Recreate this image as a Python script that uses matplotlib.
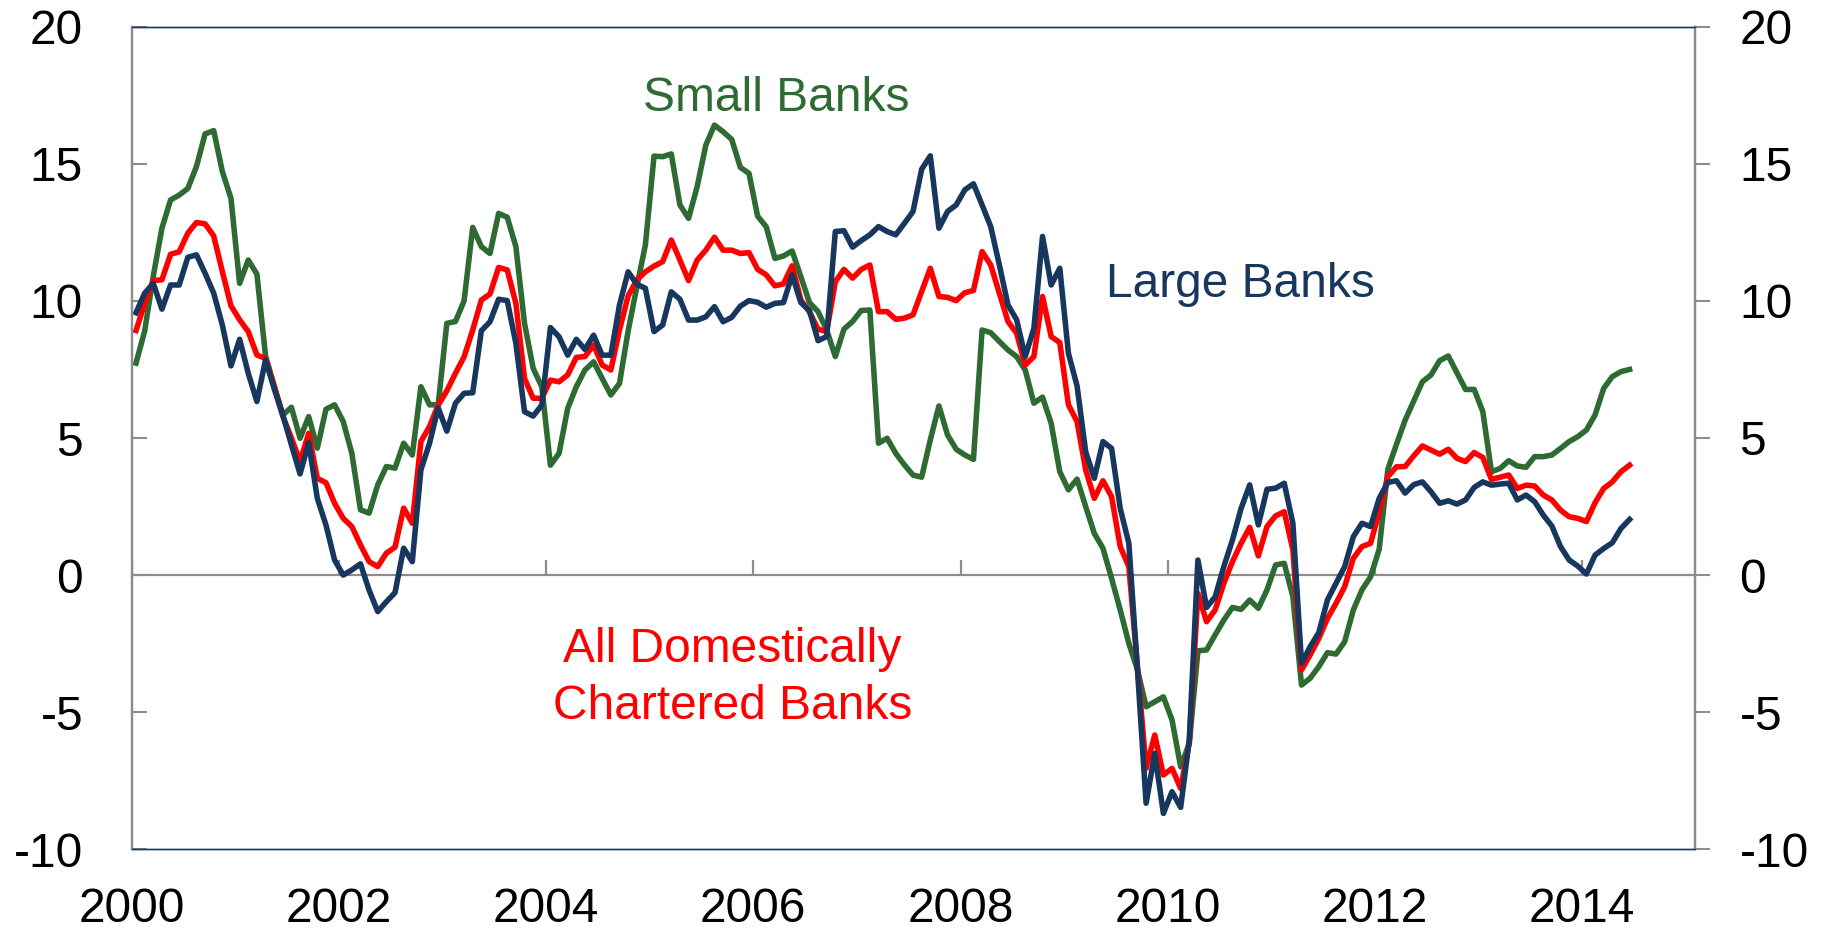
import numpy as np
import pandas as pd
import matplotlib
matplotlib.use("Agg")
import matplotlib.pyplot as plt

plt.rcParams['font.family'] = ['Liberation Sans', 'DejaVu Sans']

# Monthly data, Jan 2000 - Jun 2014 (percent, annual rate)
months = pd.date_range("2000-01-01", periods=174, freq="MS")

small_banks = [
    7.73, 8.9, 10.9, 12.65, 13.68, 13.86, 14.1, 14.9, 16.09, 16.21, 14.72, 13.74,
    10.64, 11.49, 10.98, 8.0, 6.9, 5.84, 6.12, 4.99, 5.78, 4.63, 6.05, 6.21,
    5.6, 4.44, 2.38, 2.26, 3.29, 3.96, 3.9, 4.81, 4.38, 6.87, 6.21, 6.21,
    9.18, 9.25, 10.0, 12.68, 11.98, 11.73, 13.19, 13.05, 11.98, 9.18, 7.54, 6.87,
    4.01, 4.44, 6.08, 6.87, 7.48, 7.78, 7.17, 6.57, 6.99, 8.9, 10.5, 12.04,
    15.28, 15.26, 15.36, 13.5, 13.01, 14.17, 15.68, 16.41, 16.17, 15.89, 14.87, 14.65,
    13.09, 12.7, 11.55, 11.64, 11.82, 10.89, 9.94, 9.61, 8.94, 7.97, 8.97, 9.25,
    9.65, 9.67, 4.81, 4.99, 4.44, 4.02, 3.65, 3.57, 4.93, 6.17, 5.11, 4.59,
    4.38, 4.22, 8.94, 8.84, 8.52, 8.21, 7.97, 7.48, 6.27, 6.49, 5.54, 3.77,
    3.11, 3.5, 2.5, 1.52, 0.98, -0.12, -1.27, -2.49, -3.46, -4.8, -4.62, -4.44,
    -5.28, -6.99, -6.14, -2.76, -2.73, -2.18, -1.64, -1.18, -1.25, -0.91, -1.21, -0.54,
    0.37, 0.43, -0.79, -4.01, -3.76, -3.34, -2.83, -2.88, -2.43, -1.27, -0.54, -0.06,
    0.95, 3.86, 4.77, 5.65, 6.35, 7.05, 7.3, 7.82, 7.99, 7.38, 6.77, 6.77,
    5.96, 3.77, 3.89, 4.17, 3.98, 3.93, 4.32, 4.32, 4.38, 4.62, 4.87, 5.05,
    5.29, 5.84, 6.81, 7.24, 7.42, 7.5,
]

all_domestic = [
    8.92, 9.9, 10.74, 10.77, 11.7, 11.79, 12.47, 12.86, 12.81, 12.37, 11.07, 9.82,
    9.31, 8.88, 8.03, 7.9, 6.9, 5.8, 5.0, 4.14, 5.17, 3.53, 3.37, 2.62,
    2.07, 1.77, 1.1, 0.49, 0.31, 0.8, 1.02, 2.44, 1.89, 4.87, 5.42, 6.2,
    6.72, 7.36, 7.96, 8.94, 10.03, 10.25, 11.22, 11.13, 9.91, 7.17, 6.45, 6.45,
    7.11, 7.05, 7.3, 7.94, 7.97, 8.39, 7.66, 7.48, 8.94, 10.18, 10.76, 11.06,
    11.27, 11.43, 12.22, 11.49, 10.74, 11.49, 11.85, 12.32, 11.85, 11.85, 11.73, 11.76,
    11.15, 10.95, 10.55, 10.62, 11.28, 10.04, 9.6, 8.97, 8.88, 10.7, 11.15, 10.83,
    11.15, 11.31, 9.61, 9.61, 9.33, 9.37, 9.49, 10.34, 11.19, 10.16, 10.13, 10.01,
    10.3, 10.38, 11.8, 11.31, 10.28, 9.25, 8.82, 7.66, 7.97, 10.16, 8.7, 8.48,
    6.21, 5.6, 3.84, 2.8, 3.44, 2.86, 1.04, 0.31, -3.34, -7.05, -5.83, -7.29,
    -7.05, -7.78, -6.1, -0.67, -1.7, -1.27, -0.3, 0.49, 1.16, 1.74, 0.7, 1.77,
    2.16, 2.31, 0.92, -3.46, -2.91, -2.31, -1.58, -1.03, -0.42, 0.61, 1.04, 1.16,
    2.3, 3.59, 3.95, 3.96, 4.35, 4.71, 4.56, 4.41, 4.59, 4.26, 4.14, 4.47,
    4.29, 3.49, 3.57, 3.65, 3.16, 3.28, 3.25, 2.92, 2.74, 2.37, 2.13, 2.07,
    1.95, 2.64, 3.16, 3.4, 3.77, 4.01,
]

large_banks = [
    9.57, 10.28, 10.64, 9.7, 10.58, 10.58, 11.59, 11.68, 11.01, 10.28, 9.12, 7.63,
    8.6, 7.36, 6.33, 7.85, 6.8, 5.84, 4.75, 3.69, 4.83, 2.8, 1.83, 0.55,
    0.0, 0.19, 0.41, -0.55, -1.33, -0.97, -0.64, 0.98, 0.49, 3.84, 4.81, 6.1,
    5.25, 6.27, 6.63, 6.65, 8.91, 9.24, 10.06, 10.01, 8.45, 5.96, 5.8, 6.2,
    9.03, 8.69, 8.02, 8.6, 8.23, 8.75, 8.02, 8.02, 9.85, 11.06, 10.61, 10.46,
    8.88, 9.12, 10.33, 10.06, 9.3, 9.3, 9.42, 9.79, 9.24, 9.4, 9.81, 10.01,
    9.95, 9.77, 9.91, 9.94, 10.95, 9.94, 9.65, 8.55, 8.7, 12.53, 12.56, 11.96,
    12.2, 12.41, 12.71, 12.53, 12.41, 12.83, 13.26, 14.8, 15.29, 12.65, 13.26, 13.5,
    14.05, 14.27, 13.5, 12.71, 11.31, 9.85, 9.31, 7.97, 9.0, 12.35, 10.58, 11.19,
    8.09, 6.9, 4.5, 3.53, 4.87, 4.62, 2.43, 1.16, -3.46, -8.32, -6.5, -8.69,
    -7.9, -8.47, -6.01, 0.55, -1.18, -0.79, 0.31, 1.28, 2.43, 3.29, 1.83, 3.13,
    3.17, 3.35, 1.89, -3.22, -2.61, -2.1, -0.91, -0.3, 0.31, 1.4, 1.89, 1.77,
    2.8, 3.38, 3.44, 2.99, 3.3, 3.4, 3.04, 2.62, 2.71, 2.59, 2.74, 3.2,
    3.4, 3.28, 3.32, 3.35, 2.74, 2.92, 2.68, 2.19, 1.79, 1.04, 0.55, 0.33,
    0.04, 0.73, 0.97, 1.18, 1.7, 2.03,
]

x_ticks = [2000, 2002, 2004, 2006, 2008, 2010, 2012, 2014]
y_ticks = [-10, -5, 0, 5, 10, 15, 20]

GREEN = "#2D6B32"
NAVY = "#17375E"
RED = "#FF0000"
GRAY = "#8C8C8C"
BORDER = "#1F3A60"
FS = 34.5
LW = 4.0

# decimal-year positions (mid-month)
x = months.year + (months.month - 0.5) / 12.0

W, H = 1831, 936
fig = plt.figure(figsize=(W / 100, H / 100), dpi=100)
ax = fig.add_axes([131.7 / W, (H - 849.3) / H, (1695 - 131.7) / W, 822.6 / H])

ax.axhline(0, color=GRAY, lw=1.6, zorder=1)
ax.vlines(x_ticks, 0, 0.55, color=GRAY, lw=1.6, zorder=1)

ax.plot(x, small_banks, color=GREEN, lw=LW, solid_joinstyle="round", zorder=3)
ax.plot(x, all_domestic, color=RED, lw=LW, solid_joinstyle="round", zorder=3)
ax.plot(x, large_banks, color=NAVY, lw=LW, solid_joinstyle="round", zorder=4)

ax.set_xlim(2000, 2000 + (1695 - 131.7) / 103.6)
ax.set_ylim(-10, 20)

ax.set_xticks(x_ticks)
ax.set_xticklabels([str(t) for t in x_ticks])
ax.tick_params(axis="x", length=0, pad=27, labelsize=FS)

ax.set_yticks(y_ticks)
ax.set_yticklabels([str(t) for t in y_ticks])
ax.tick_params(axis="y", direction="in", length=11, width=1.5, color=GRAY,
               labelsize=FS, pad=35)

axr = ax.twinx()
axr.set_ylim(-10, 20)
axr.set_yticks(y_ticks)
axr.set_yticklabels([str(t) for t in y_ticks])
axr.tick_params(axis="y", direction="out", length=11, width=1.5, color=GRAY,
                labelsize=FS, pad=21)

for a in (ax, axr):
    a.spines["left"].set_color(GRAY)
    a.spines["right"].set_color(GRAY)
    a.spines["left"].set_linewidth(1.6)
    a.spines["right"].set_linewidth(1.6)
    a.spines["top"].set_color(BORDER)
    a.spines["bottom"].set_color(BORDER)
    a.spines["top"].set_linewidth(1.0)
    a.spines["bottom"].set_linewidth(1.0)

ax.text(2006.22, 17.37, "Small Banks", color=GREEN, fontsize=FS,
        ha="center", va="center")
ax.text(2010.70, 10.60, "Large Banks", color=NAVY, fontsize=FS,
        ha="center", va="center")
ax.text(2005.80, -3.75, "All Domestically\nChartered Banks", color=RED,
        fontsize=FS, ha="center", va="center", linespacing=1.32)

fig.savefig("out.png", dpi=100)
